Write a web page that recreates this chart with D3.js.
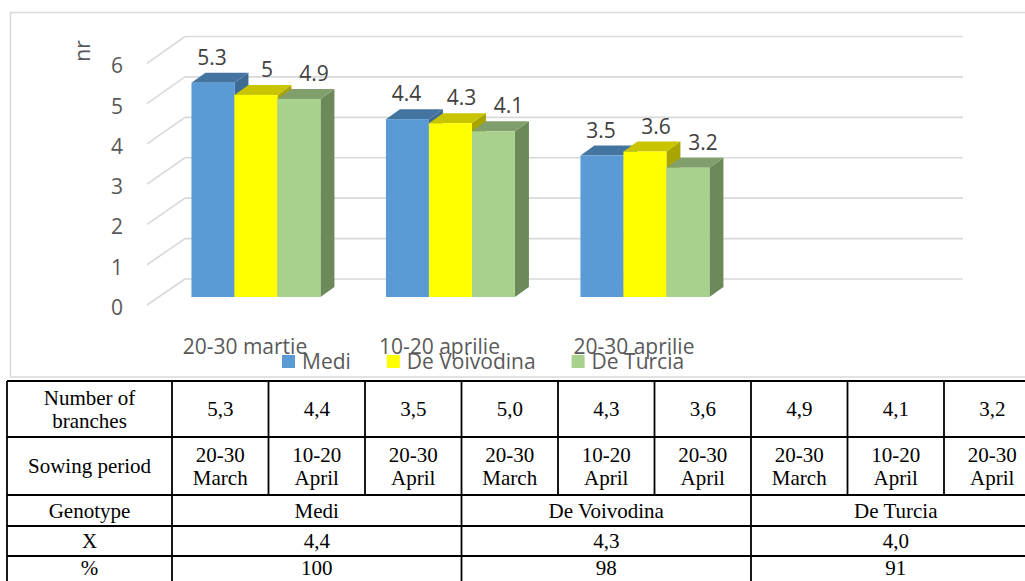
<!DOCTYPE html>
<html>
<head>
<meta charset="utf-8">
<script src="https://cdn.jsdelivr.net/npm/d3@7"></script>
<style>
  html, body { margin: 0; padding: 0; background: #ffffff; }
  svg { display: block; }
</style>
</head>
<body>
<svg id="chart" width="1025" height="581"></svg>
<script>
// ---- Data ----
const categories = ["20-30 martie", "10-20 aprilie", "20-30 aprilie"];
const seriesNames = ["Medi", "De Voivodina", "De Turcia"];
const medi = [5.3, 4.4, 3.5];
const voivodina = [5, 4.3, 3.6];
const turcia = [4.9, 4.1, 3.2];
const yTicks = [0, 1, 2, 3, 4, 5, 6];
const axisTitle = "nr";

// Summary table
const rowHeaders = [["Number of", "branches"], ["Sowing period"], ["Genotype"], ["X"], ["%"]];
const tablePeriods = [["20-30", "March"], ["10-20", "April"], ["20-30", "April"]];
const genotypeMeans = ["4,4", "4,3", "4,0"];
const genotypePercent = ["100", "98", "91"];

// ---- Styles ----
const frontColors = ["#5b9bd5", "#ffff00", "#a9d18e"];
const topColors   = ["#4474a0", "#c8c400", "#819f6c"];
const sideColors  = ["#3e6a94", "#a8a400", "#6c8959"];
const labelDx     = [-1, 11, 15];
const chartFont = "'Open Sans', 'Noto Sans', sans-serif";
const tableFont = "'Liberation Serif', 'Times New Roman', serif";
const textGrey = "#595959";
const gridGrey = "#d9d9d9";

const series = [medi, voivodina, turcia].map((vals, i) => ({
  name: seriesNames[i], values: vals, i
}));

const svg = d3.select("#chart");

// ---- 3D frame geometry ----
const wallLeft = 185, wallRight = 963;      // back wall x extent
const baseBack = 279, baseFront = 305, baseBar = 297;
const depthX = 38;                           // front-to-back x shift of the floor
const barDepth = { dx: 14, dy: -10 };

const h = d3.scaleLinear().domain([0, 6]).range([0, 242.5]);
const yBack = v => baseBack - h(v);
const yFront = v => baseFront - h(v) + 0.8 * (v / 6);
const yBar = v => baseBar - h(v);

// plane where the bars stand
const barPlaneLeft = wallLeft - depthX * (baseBar - baseBack) / (baseFront - baseBack);
const slot = (wallRight - wallLeft) / 4;
const x0 = d3.scaleBand()
  .domain(categories)
  .range([barPlaneLeft, barPlaneLeft + slot * 3])
  .paddingInner(0.337)
  .paddingOuter(0.1685);
const x1 = d3.scaleBand()
  .domain(seriesNames)
  .range([0, x0.bandwidth()]);

// ---- chart frame ----
svg.append("rect")
  .attr("x", 10.5).attr("y", 12.5)
  .attr("width", 1040).attr("height", 364.5)
  .attr("fill", "#ffffff")
  .attr("stroke", "#d9d9d9").attr("stroke-width", 1.5);

// ---- gridlines: back wall + side wall ----
const grid = svg.append("g");
grid.selectAll("line.back").data(yTicks).join("line")
  .attr("class", "back")
  .attr("x1", wallLeft).attr("x2", wallRight)
  .attr("y1", d => yBack(d)).attr("y2", d => yBack(d))
  .attr("stroke", gridGrey).attr("stroke-width", 1.6);
grid.selectAll("line.side").data(yTicks).join("line")
  .attr("class", "side")
  .attr("x1", wallLeft - depthX).attr("x2", wallLeft)
  .attr("y1", d => yFront(d)).attr("y2", d => yBack(d))
  .attr("stroke", gridGrey).attr("stroke-width", 1.6);

// ---- bars ----
const bars = svg.append("g");
categories.forEach((cat, ci) => {
  series.forEach(s => {
    const v = s.values[ci];
    const xl = x0(cat) + x1(s.name);
    const xr = xl + x1.bandwidth();
    const yt = yBar(v), yb = yBar(0);
    const { dx, dy } = barDepth;
    const g = bars.append("g");
    // side face
    g.append("path")
      .attr("d", `M${xr},${yt}L${xr + dx},${yt + dy}L${xr + dx},${yb + dy}L${xr},${yb}Z`)
      .attr("fill", sideColors[s.i]);
    // top face
    g.append("path")
      .attr("d", `M${xl},${yt}L${xl + dx},${yt + dy}L${xr + dx},${yt + dy}L${xr},${yt}Z`)
      .attr("fill", topColors[s.i]);
    // front face
    g.append("rect")
      .attr("x", xl).attr("y", yt)
      .attr("width", x1.bandwidth()).attr("height", yb - yt)
      .attr("fill", frontColors[s.i]);
  });
});

// ---- y tick labels ----
svg.append("g").selectAll("text").data(yTicks).join("text")
  .attr("x", 123)
  .attr("y", d => yFront(d) + 2)
  .attr("text-anchor", "end")
  .attr("dominant-baseline", "central")
  .attr("font-family", chartFont).attr("font-size", 21)
  .attr("fill", textGrey)
  .text(d => d);

// ---- axis title ----
svg.append("text")
  .attr("transform", "translate(82,51) rotate(-90)")
  .attr("text-anchor", "middle")
  .attr("dominant-baseline", "central")
  .attr("font-family", chartFont).attr("font-size", 21)
  .attr("fill", textGrey)
  .text(axisTitle);

// ---- category labels ----
svg.append("g").selectAll("text").data(categories).join("text")
  .attr("x", d => x0(d) + x0.bandwidth() / 2 - 11)
  .attr("y", 346)
  .attr("text-anchor", "middle")
  .attr("dominant-baseline", "central")
  .attr("font-family", chartFont).attr("font-size", 21)
  .attr("fill", textGrey)
  .text(d => d);

// ---- data labels ----
const labels = svg.append("g");
categories.forEach((cat, ci) => {
  series.forEach(s => {
    const v = s.values[ci];
    labels.append("text")
      .attr("x", x0(cat) + x1(s.name) + x1.bandwidth() / 2 + labelDx[s.i])
      .attr("y", yBar(v) - 26)
      .attr("text-anchor", "middle")
      .attr("dominant-baseline", "central")
      .attr("font-family", chartFont).attr("font-size", 21)
      .attr("fill", "#404040")
      .text(String(v));
  });
});

// ---- legend ----
const legend = svg.append("g");
let lx = 282;
series.forEach(s => {
  legend.append("rect")
    .attr("x", lx).attr("y", 355)
    .attr("width", 13).attr("height", 13)
    .attr("fill", frontColors[s.i]);
  const t = legend.append("text")
    .attr("x", lx + 20).attr("y", 361)
    .attr("dominant-baseline", "central")
    .attr("font-family", chartFont).attr("font-size", 21)
    .attr("fill", textGrey)
    .text(s.name);
  lx += 20 + t.node().getComputedTextLength() + 36;
});

// ---- summary table ----
const table = svg.append("g");
const tLeft = 7, tHeadRight = 172, tRight = 1040.5;
// last row runs past the bottom of the page
const rowEdges = [381, 437, 495, 526, 556, 580];
const tableBottom = 590;
const valueCols = d3.range(9);
const xc = d3.scaleBand().domain(valueCols).range([tHeadRight, tRight]);
const fmt = v => d3.format(".1f")(v).replace(".", ",");

const tLine = (x1_, y1_, x2_, y2_) =>
  table.append("line")
    .attr("x1", x1_).attr("y1", y1_).attr("x2", x2_).attr("y2", y2_)
    .attr("stroke", "#000").attr("stroke-width", 1.8);

// horizontal rules
rowEdges.slice(0, 5).forEach(y => tLine(tLeft, y, tRight, y));
// vertical rules
tLine(tLeft, rowEdges[0], tLeft, tableBottom);
tLine(tHeadRight, rowEdges[0], tHeadRight, tableBottom);
valueCols.forEach(c => {
  const xe = xc(c) + xc.bandwidth();
  const fullHeight = (c + 1) % 3 === 0;
  tLine(xe, rowEdges[0], xe, fullHeight ? tableBottom : rowEdges[2]);
});

const cellText = (x, yTop, yBottom, lines) => {
  const lineH = 23;
  const mid = (yTop + yBottom) / 2;
  lines.forEach((ln, k) => {
    table.append("text")
      .attr("x", x)
      .attr("y", mid + (k - (lines.length - 1) / 2) * lineH)
      .attr("text-anchor", "middle")
      .attr("dominant-baseline", "central")
      .attr("font-family", tableFont).attr("font-size", 21)
      .attr("fill", "#000")
      .text(ln);
  });
};

// row headers
rowHeaders.forEach((lines, r) =>
  cellText((tLeft + tHeadRight) / 2, rowEdges[r], rowEdges[r + 1], lines));

// per-cell rows: values and sowing periods (genotype-major order)
series.forEach(s => {
  s.values.forEach((v, ci) => {
    const col = s.i * 3 + ci;
    const cx = xc(col) + xc.bandwidth() / 2;
    cellText(cx, rowEdges[0], rowEdges[1], [fmt(v)]);
    cellText(cx, rowEdges[1], rowEdges[2], tablePeriods[ci]);
  });
  // merged cells
  const gx = xc(s.i * 3) + xc.bandwidth() * 1.5;
  cellText(gx, rowEdges[2], rowEdges[3], [s.name]);
  cellText(gx, rowEdges[3], rowEdges[4], [genotypeMeans[s.i]]);
  cellText(gx, rowEdges[4], rowEdges[5], [genotypePercent[s.i]]);
});
</script>
</body>
</html>
